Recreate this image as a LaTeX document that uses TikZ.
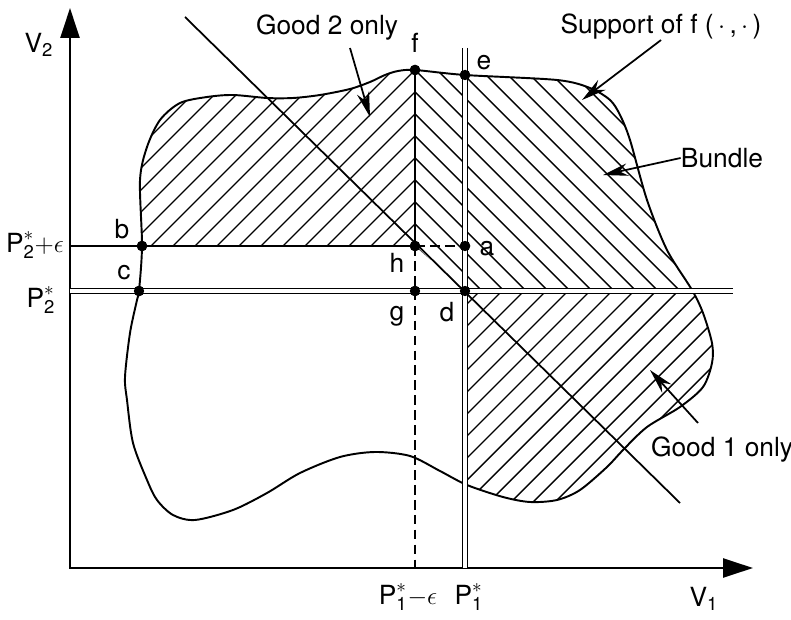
\documentclass[tikz,border=0pt]{standalone}
\usepackage{amsmath}
\usepackage{fontspec}
\setmainfont{TeX Gyre Heros}
\usetikzlibrary{arrows.meta,positioning}

\def\supportpath{plot[smooth cycle] coordinates {(415,549) (465,544) (557,539) (590,531) (610,519) (620,504) (630,479) (647,419) (667,369) (692,329) (703,306) (712,276) (712,256) (703,232) (680,212) (647,192) (623,169) (607,152) (580,129) (557,119) (530,117) (503,122) (467,134) (440,148) (410,163) (375,167) (340,162) (300,146) (267,126) (233,109) (195,99) (173,104) (157,119) (147,139) (133,176) (127,219) (125,242) (130,286) (137,319) (139,328) (142,373) (140,439) (147,472) (160,499) (180,516) (207,522) (233,524) (267,521) (293,521) (320,524) (350,530) (370,537) (385,544) (398,548)}}

\begin{document}
\begin{tikzpicture}[
  x=0.02cm,y=0.02cm,
  every node/.style={font=\fontsize{15}{17}\selectfont,inner sep=0pt},
  axis/.style={line width=1.4pt,{Triangle[length=6mm,width=3.8mm]}-{Triangle[length=6mm,width=3.8mm]}},
  rule/.style={line width=1pt},
  twin/.style={line width=0.7pt,double,double distance=2pt},
  hatch/.style={line width=0.8pt},
  edge/.style={line width=1.1pt},
  gap/.style={line width=1pt,dash pattern=on 5.5pt off 3pt},
  pointer/.style={line width=1pt,-{Stealth[length=5mm,width=2.5mm]}},
  dot/.style={circle,fill,minimum size=2.1mm,inner sep=0pt}
]
  \useasboundingbox (0,0) rectangle (791,619);

  % hatching
  \begin{scope}
    \clip \supportpath;
    \begin{scope}
      \clip (0,373) rectangle (415,700);
      \foreach \k in {-45,...,25} \draw[hatch] (0,134+22*\k) -- ++(800,800);
    \end{scope}
    \begin{scope}
      \clip (465,0) rectangle (800,328);
      \foreach \k in {-45,...,25} \draw[hatch] (0,134+22*\k) -- ++(800,800);
    \end{scope}
    \begin{scope}
      \clip (415,700) -- (415,373) -- (465,328) -- (800,328) -- (800,700) -- cycle;
      \foreach \k in {-45,...,25} \draw[hatch] (0,964+22*\k) -- ++(800,-800);
    \end{scope}
  \end{scope}
  \draw[edge] \supportpath;

  % axes
  \coordinate (O) at (70,51);
  \coordinate (ytip) at (70,611);
  \coordinate (xtip) at (753,51);
  \draw[axis] (ytip) -- (O) -- (xtip);
  \node (v2) at (39,574) {V$_{\text{2}}$};
  \node (v1) at (704,20) {V$_{\text{1}}$};

  % points
  \node[dot] (f) at (415,549) {};
  \node[dot] (e) at (465,544) {};
  \node[dot] (b) at (142,373) {};
  \node[dot] (c) at (139,328) {};
  \node[dot] (h) at (415,373) {};
  \node[dot] (a) at (465,373) {};
  \node[dot] (g) at (415,328) {};
  \node[dot] (d) at (465,328) {};

  \coordinate (p2e) at (70,373);
  \coordinate (p2l) at (70,328);
  \coordinate (p2r) at (733,328);
  \coordinate (p1t) at (465,571);
  \coordinate (p1b) at (465,51);
  \coordinate (p1e) at (415,51);
  \coordinate (dtop) at (185,602);
  \coordinate (dbot) at (680,116);

  \draw[rule] (p2e) -- (b.center) -- (h.center);
  \draw[rule] (f.center) -- (h.center);
  \draw[gap] (h.center) -- (a.center);
  \draw[gap] (h.center) -- (p1e);
  \draw[twin] (p2l) -- (p2r);
  \draw[twin] (p1t) -- (p1b);
  \draw[rule] (dtop) -- (dbot);

  % redraw dots on top
  \foreach \p in {f,e,b,c,h,a,g,d} \fill (\p) circle (5.2);

  \node (lf) at (415,576) {f};
  \node (le) at (484,556) {e};
  \node (lb) at (122,390) {b};
  \node (lc) at (124,346) {c};
  \node (lh) at (397,356) {h};
  \node (la) at (487,370) {a};
  \node (lg) at (397,303) {g};
  \node (ld) at (447,307) {d};

  \node (p2eps) at (35,374) {$\text{P}^{*}_{\text{2}}{+}\epsilon$};
  \node (p2) at (41,319) {$\text{P}^{*}_{\text{2}}$};
  \node (p1eps) at (408,22) {$\text{P}^{*}_{\text{1}}{-}\epsilon$};
  \node (p1) at (469,22) {$\text{P}^{*}_{\text{1}}$};

  % callouts
  \node (good2) at (327,591) {Good 2 only};
  \node (support) at (661,592) {Support of f (\,$\cdot$\,,\,$\cdot$\,)};
  \node (bundle) at (722,461) {Bundle};
  \node (good1) at (722,169) {Good 1 only};
  \coordinate (g2from) at (350,571);
  \coordinate (g2to) at (370,502);
  \coordinate (sto) at (582,519);
  \coordinate (bto) at (603,444);
  \coordinate (g1from) at (698,196);
  \coordinate (g1to) at (650,249);
  \draw[pointer] (g2from) -- (g2to);
  \draw[pointer] (support.south) -- (sto);
  \draw[pointer] (bundle.west) -- (bto);
  \draw[pointer] (g1from) -- (g1to);
\end{tikzpicture}
\end{document}
